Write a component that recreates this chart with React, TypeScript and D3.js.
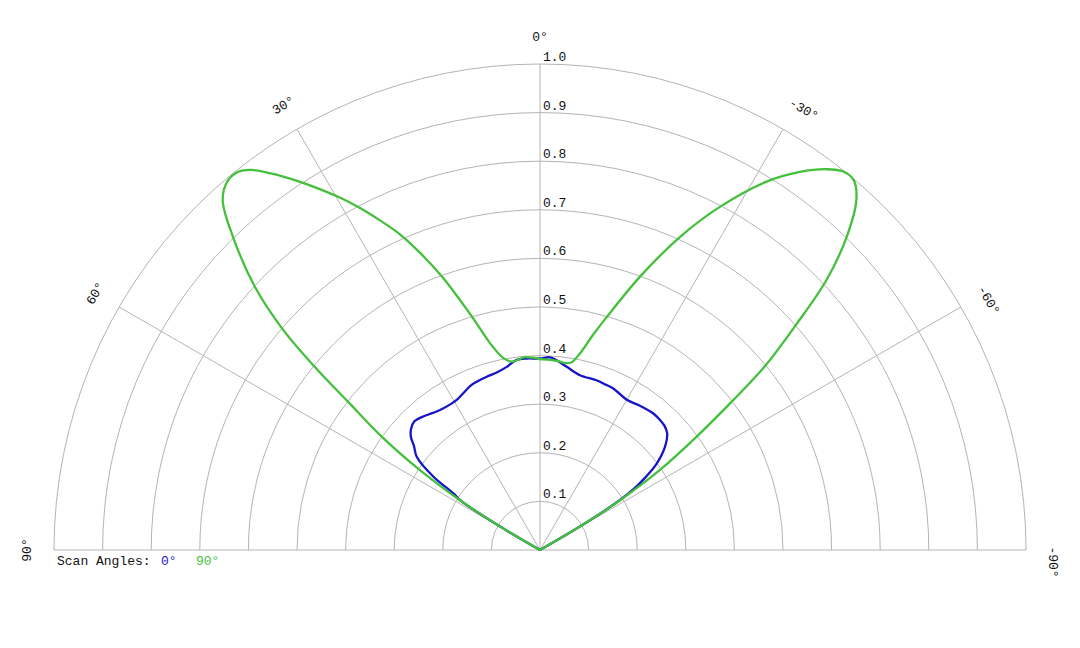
import React from "react";
import * as d3 from "d3";

// ---- data ----
const ringValues = [0.1, 0.2, 0.3, 0.4, 0.5, 0.6, 0.7, 0.8, 0.9, 1.0];
const ringLabels = ["0.1", "0.2", "0.3", "0.4", "0.5", "0.6", "0.7", "0.8", "0.9", "1.0"];
const spokeAngles = [90, 60, 30, 0, -30, -60, -90];
const spokeLabels = ["90°", "60°", "30°", "0°", "-30°", "-60°", "-90°"];
const legendTitle = "Scan Angles:";
const seriesNames = ["0°", "90°"];

// scan angle 0° (blue): pattern angle (deg, positive to the left) and normalised gain
const scan0Angles = [61, 59.5, 58, 56.8, 55.5, 52.9, 50.5, 48.8, 46.8, 44.3, 41.2, 38, 35.5, 31.0, 28.5, 26.1, 23, 20.6, 17.1, 13.7, 10.3, 7.0, 4.0, 0, -3.0, -5.0, -8.3, -12.9, -18.4, -22.0, -24.4, -30.0, -34.7, -39.7, -42.7, -45, -47.5, -50.4, -53.6, -55.5, -56.9, -58, -59.5, -61];
const scan0Gain = [0, 0.1, 0.194, 0.213, 0.266, 0.318, 0.336, 0.353, 0.364, 0.37, 0.365, 0.358, 0.354, 0.352, 0.354, 0.359, 0.367, 0.37, 0.373, 0.376, 0.383, 0.394, 0.395, 0.394, 0.397, 0.392, 0.381, 0.369, 0.368, 0.366, 0.365, 0.357, 0.361, 0.365, 0.364, 0.362, 0.355, 0.334, 0.297, 0.262, 0.232, 0.194, 0.1, 0];

// scan angle 90° (green)
const scan90Angles = [61, 59.5, 58, 56.3, 54.4, 52.3, 51, 49.4, 47.3, 44.5, 42.2, 40.2, 38.5, 37.2, 35.0, 33.1, 31.4, 29.6, 27.8, 25.9, 23.9, 22.0, 19.6, 16.1, 13.6, 10.8, 8.5, 6.5, 4.9, 2, 0, -2.5, -6.1, -7.6, -9.6, -11.5, -13.8, -16.0, -20.1, -24.1, -27.7, -31.6, -34.5, -37.0, -38.7, -40.3, -42.1, -44.4, -46.7, -48.6, -50.7, -52.2, -54.1, -56.2, -58, -59.5, -61];
const scan90Gain = [0, 0.1, 0.2, 0.3, 0.4, 0.5, 0.59, 0.696, 0.798, 0.9, 0.972, 0.995, 0.995, 0.982, 0.942, 0.904, 0.87, 0.834, 0.796, 0.754, 0.71, 0.66, 0.594, 0.496, 0.438, 0.402, 0.392, 0.394, 0.398, 0.396, 0.393, 0.392, 0.39, 0.388, 0.392, 0.413, 0.455, 0.499, 0.599, 0.706, 0.798, 0.89, 0.944, 0.981, 0.998, 0.998, 0.971, 0.902, 0.81, 0.705, 0.6, 0.503, 0.398, 0.3, 0.2, 0.1, 0];

const seriesColors = ["#1414c8", "#44c03c"];

// ---- layout ----
const W = 1080;
const H = 648;
const cx = 540;
const cy = 550;
const R = 486;
const FONT = "'Liberation Mono', 'DejaVu Sans Mono', monospace";

const rScale = d3.scaleLinear().domain([0, 1]).range([0, R]);
const toRad = (deg: number) => (deg * Math.PI) / 180;

function polar(deg: number, rad: number): [number, number] {
  return [cx - rad * Math.sin(toRad(deg)), cy - rad * Math.cos(toRad(deg))];
}

export default function App() {
  const lineGen = d3
    .lineRadial<[number, number]>()
    .angle((d) => -toRad(d[0]))
    .radius((d) => rScale(d[1]))
    .curve(d3.curveCatmullRom.alpha(0.5));

  const series = [
    d3.zip(scan0Angles, scan0Gain) as [number, number][],
    d3.zip(scan90Angles, scan90Gain) as [number, number][],
  ];

  const arcPath = (v: number) => {
    const p = d3.path();
    const rr = rScale(v);
    p.moveTo(cx - rr, cy);
    p.arc(cx, cy, rr, Math.PI, 2 * Math.PI, false);
    return p.toString();
  };

  return (
    <svg
      width={W}
      height={H}
      style={{ position: "absolute", left: 0, top: 0, background: "#fff" }}
    >
      <g>
        {ringValues.map((v) => (
          <path key={"ring" + v} d={arcPath(v)} fill="none" stroke="#b4b4b4" strokeWidth={1} />
        ))}
        {spokeAngles.map((a) => {
          const [x2, y2] = polar(a, R);
          return (
            <line key={"spoke" + a} x1={cx} y1={cy} x2={x2} y2={y2} stroke="#b4b4b4" strokeWidth={1} />
          );
        })}
      </g>
      <g fontFamily={FONT} fontSize={13} fill="#111">
        {ringValues.map((v, i) => (
          <text key={"rl" + v} x={cx + 3} y={cy - rScale(v) - 3}>
            {ringLabels[i]}
          </text>
        ))}
        {spokeAngles.map((a, i) => {
          const [x, y] = polar(a, R + 28);
          const dx = a < 0 ? (a === -90 ? 12 : 8) : 0;
          return (
            <text
              key={"al" + a}
              transform={`translate(${x},${y}) rotate(${-a})`}
              textAnchor="middle"
              dx={dx}
              dy="0.35em"
            >
              {spokeLabels[i]}
            </text>
          );
        })}
      </g>
      <g>
        {series.map((s, i) => (
          <path
            key={"s" + i}
            d={lineGen(s) || ""}
            transform={`translate(${cx},${cy})`}
            fill="none"
            stroke={seriesColors[i]}
            strokeWidth={2.3}
            strokeLinejoin="round"
          />
        ))}
      </g>
      <g fontFamily={FONT} fontSize={13}>
        <text x={57} y={565} fill="#111">
          {legendTitle}
        </text>
        <text x={161} y={565} fill={seriesColors[0]}>
          {seriesNames[0]}
        </text>
        <text x={196} y={565} fill={seriesColors[1]}>
          {seriesNames[1]}
        </text>
      </g>
    </svg>
  );
}
